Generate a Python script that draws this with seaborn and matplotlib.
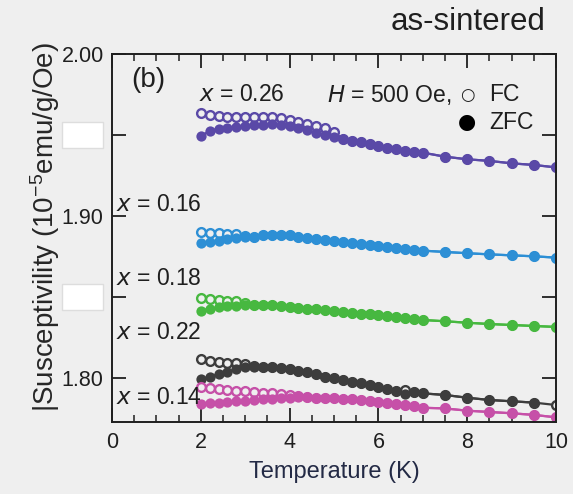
import numpy as np
import pandas as pd
import matplotlib
matplotlib.use("Agg")
import matplotlib.pyplot as plt
import seaborn as sns
from matplotlib.patches import Rectangle

# --- data ---
temps = [2.0, 2.2, 2.4, 2.6, 2.8, 3.0, 3.2, 3.4, 3.6, 3.8, 4.0, 4.2, 4.4,
         4.6, 4.8, 5.0, 5.2, 5.4, 5.6, 5.8, 6.0, 6.2, 6.4, 6.6, 6.8, 7.0,
         7.5, 8.0, 8.5, 9.0, 9.5, 10.0]

zfc_026 = [1.9494, 1.9525, 1.9539, 1.9545, 1.9551, 1.9556, 1.9560, 1.9564, 1.9566,
           1.9564, 1.9556, 1.9541, 1.9531, 1.9510, 1.9498, 1.9486, 1.9473, 1.9465,
           1.9455, 1.9444, 1.9432, 1.9420, 1.9412, 1.9403, 1.9397, 1.9391,
           1.9366, 1.9350, 1.9340, 1.9325, 1.9315, 1.9300]
fc_026 = [1.9634, 1.9623, 1.9619, 1.9613, 1.9609, 1.9609, 1.9611, 1.9611, 1.9609,
          1.9603, 1.9593, 1.9578, 1.9568, 1.9556, 1.9541, 1.9520] + zfc_026[16:]

zfc_016 = [1.8831, 1.8837, 1.8846, 1.8856, 1.8862, 1.8868, 1.8872, 1.8881, 1.8885,
           1.8885, 1.8881, 1.8872, 1.8864, 1.8858, 1.8852, 1.8844, 1.8837, 1.8831,
           1.8825, 1.8821, 1.8815, 1.8807, 1.8800, 1.8794, 1.8790, 1.8786,
           1.8778, 1.8770, 1.8763, 1.8757, 1.8751, 1.8743]
fc_016 = [1.8903, 1.8897, 1.8893, 1.8889, 1.8887, 1.8878] + zfc_016[6:]

zfc_018 = [1.8416, 1.8428, 1.8436, 1.8442, 1.8446, 1.8451, 1.8453, 1.8453, 1.8449,
           1.8444, 1.8440, 1.8434, 1.8428, 1.8424, 1.8420, 1.8414, 1.8407, 1.8403,
           1.8397, 1.8393, 1.8387, 1.8383, 1.8378, 1.8372, 1.8366, 1.8358,
           1.8350, 1.8341, 1.8333, 1.8327, 1.8321, 1.8315]
fc_018 = [1.8492, 1.8486, 1.8479, 1.8475, 1.8473, 1.8462] + zfc_018[6:]

zfc_022 = [1.7992, 1.8008, 1.8023, 1.8039, 1.8054, 1.8066, 1.8070, 1.8070, 1.8066,
           1.8062, 1.8056, 1.8045, 1.8035, 1.8023, 1.8008, 1.7998, 1.7988, 1.7977,
           1.7967, 1.7957, 1.7942, 1.7932, 1.7922, 1.7901, 1.7915, 1.7905,
           1.7895, 1.7878, 1.7864, 1.7856, 1.7848, np.nan]
fc_022 = [1.8115, 1.8107, 1.8101, 1.8095, 1.8091, 1.8086, 1.8075, 1.8070, 1.8066,
          1.8062, 1.8056, 1.8045, 1.8035, 1.8023, 1.8008, 1.7998, 1.7988, 1.7977,
          1.7967, 1.7957, 1.7942, 1.7932, 1.7922, 1.7925, 1.7915, 1.7905,
          1.7895, 1.7878, 1.7864, 1.7856, 1.7848, 1.7833]

zfc_014 = [1.7840, 1.7844, 1.7848, 1.7852, 1.7856, 1.7860, 1.7864, 1.7868, 1.7872,
           1.7877, 1.7879, 1.7881, 1.7881, 1.7879, 1.7877, 1.7875, 1.7870, 1.7868,
           1.7864, 1.7860, 1.7854, 1.7848, 1.7840, 1.7835, 1.7826, 1.7816,
           1.7812, 1.7798, 1.7790, 1.7782, 1.7772, 1.7757]
fc_014 = [1.7946, 1.7936, 1.7930, 1.7926, 1.7922, 1.7918, 1.7914, 1.7909, 1.7905,
          1.7901, 1.7897, 1.7891, 1.7885] + zfc_014[13:]

series = [
    ("0.26", fc_026, zfc_026, "#5a49a7"),
    ("0.16", fc_016, zfc_016, "#2d8fd5"),
    ("0.18", fc_018, zfc_018, "#47b840"),
    ("0.22", fc_022, zfc_022, "#3d3d3d"),
    ("0.14", fc_014, zfc_014, "#c650a8"),
]

# curve labels and their anchor positions (T, chi)
curve_labels = ["0.16", "0.18", "0.22", "0.14"]
label_pos = [(0.1, 1.9068), (0.1, 1.8617), (0.1, 1.8278), (0.1, 1.7877)]

yticks = [1.80, 1.85, 1.90, 1.95, 2.00]
ytick_labels = ["1.80", "", "1.90", "", "2.00"]
xticks = [0, 2, 4, 6, 8, 10]

# --- style ---
bg = "#efefef"
ink = "#1f1f1f"
sns.set_theme(style="ticks")
plt.rcParams['font.family'] = ['Liberation Sans', 'DejaVu Sans']
plt.rcParams['mathtext.default'] = 'regular'
plt.rcParams['figure.facecolor'] = bg
plt.rcParams['axes.facecolor'] = bg
plt.rcParams['text.color'] = ink

fig = plt.figure(figsize=(5.73, 4.94), dpi=100)
ax = fig.add_axes([0.1955, 0.1457, 0.7748, 0.745])

for name, fc, zfc, col in series:
    d = pd.DataFrame({'T': temps, 'FC': fc, 'ZFC': zfc})
    sns.lineplot(data=d, x='T', y='FC', ax=ax, color=col, lw=1.6,
                 marker='o', markersize=6.3, markerfacecolor=bg,
                 markeredgecolor=col, markeredgewidth=1.7)
    sns.lineplot(data=d.dropna(), x='T', y='ZFC', ax=ax, color=col, lw=1.6,
                 marker='o', markersize=7.4, markeredgewidth=0)

ax.set_xlim(0, 10)
ax.set_ylim(1.7728, 2.0)
ax.set_xticks(xticks)
ax.set_xticks(np.arange(0, 10.01, 0.5), minor=True)
ax.set_yticks(yticks)
ax.set_yticklabels(ytick_labels)
ax.tick_params(axis='both', which='major', direction='in', length=10, width=1.3,
               top=True, right=True, labelsize=15.5, colors=ink)
ax.tick_params(axis='x', which='minor', direction='in', length=5, width=1.1,
               top=True, bottom=True, color=ink)
ax.tick_params(axis='x', which='major', pad=7)
ax.tick_params(axis='y', which='major', pad=6)
for s in ax.spines.values():
    s.set_linewidth(1.4)
    s.set_color(ink)

ax.set_xlabel("Temperature (K)", fontsize=17, labelpad=6, color='#232a45')
ax.set_ylabel("|Susceptivility (10$^{-5}$emu/g/Oe)", fontsize=20)
ax.yaxis.set_label_coords(-0.113, 0.53)

# annotations
ax.text(0.81, 1.984, "(b)", fontsize=20, ha='center', va='center')
ax.text(1.95, 1.9747, "$\\it{x}$ = 0.26", fontsize=16.5, ha='left', va='center')
ax.text(4.85, 1.9747, "$\\it{H}$ = 500 Oe,", fontsize=16.5, ha='left', va='center')
ax.text(8.0, 1.9747, "○", fontsize=12, ha='center', va='center',
        family=['DejaVu Sans'])
ax.text(8.5, 1.9747, "FC", fontsize=16.5, ha='left', va='center')
ax.text(8.0, 1.958, "●", fontsize=15, ha='center', va='center',
        family=['DejaVu Sans'], color='black')
ax.text(8.5, 1.958, "ZFC", fontsize=16.5, ha='left', va='center')
for lab, (tx, ty) in zip(curve_labels, label_pos):
    ax.text(tx, ty, "$\\it{x}$ = " + lab, fontsize=16.5, ha='left', va='center')

fig.text(545 / 573, 1 - 22 / 494, "as-sintered", fontsize=22.5, ha='right', va='center')

# white boxes covering the hidden tick labels
for yc in [135, 297]:
    fig.patches.append(Rectangle((62 / 573, 1 - (yc + 13) / 494), 41 / 573, 26 / 494,
                                 transform=fig.transFigure, facecolor='white',
                                 edgecolor='#dddddd', lw=1.0))

fig.savefig("out.png", dpi=100, facecolor=bg)
